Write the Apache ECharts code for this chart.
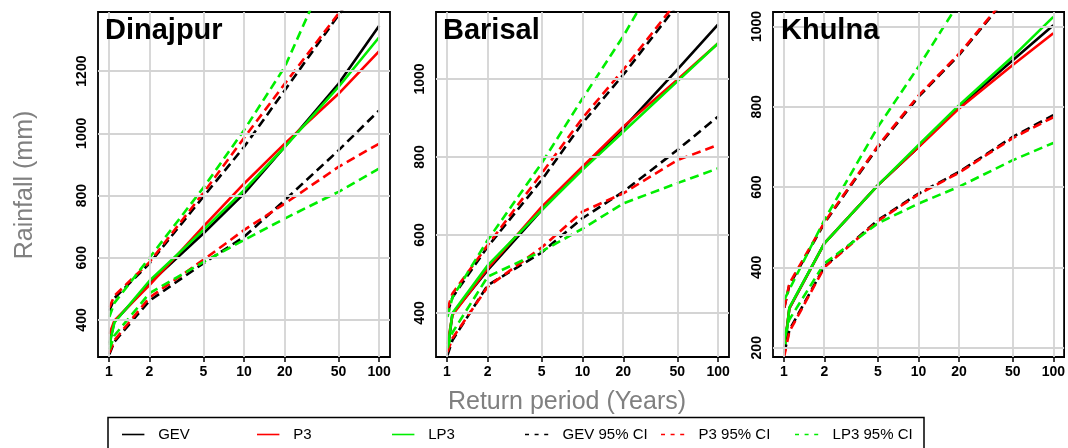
<!DOCTYPE html>
<html><head><meta charset="utf-8">
<script src="https://cdn.jsdelivr.net/npm/echarts@6/dist/echarts.min.js"></script>
<style>html,body{margin:0;padding:0;background:#fff}#c{width:1068px;height:448px}</style>
</head><body><div id="c"></div>
<script>
// Return periods (years) at which values were read
const returnPeriods = [1.01, 1.1, 2, 5, 10, 20, 50, 100];
const xTickLabels = [1, 2, 5, 10, 20, 50, 100];
const stations = ['Dinajpur', 'Barisal', 'Khulna'];
const legendNames = ['GEV', 'P3', 'LP3', 'GEV 95% CI', 'P3 95% CI', 'LP3 95% CI'];

// Dinajpur
const dinajpurGEV = [325, 395, 518, 678, 806, 956, 1159, 1346];
const dinajpurP3 = [355, 398, 512, 700, 838, 967, 1127, 1264];
const dinajpurLP3 = [320, 392, 526, 689, 817, 956, 1149, 1309];
const dinajpurGEVUpper = [430, 470, 582, 796, 956, 1138, 1380, 1560];
const dinajpurP3Upper = [440, 478, 586, 808, 985, 1159, 1385, 1570];
const dinajpurLP3Upper = [410, 455, 600, 825, 1010, 1213, 1600, 1850];
const dinajpurGEVLower = [290, 330, 462, 582, 667, 785, 945, 1074];
const dinajpurP3Lower = [295, 335, 472, 593, 689, 774, 892, 967];
const dinajpurLP3Lower = [305, 350, 486, 586, 657, 726, 812, 887];
const dinajpurYTicks = [400, 600, 800, 1000, 1200];

// Barisal
const barisalGEV = [300, 398, 510, 664, 771, 874, 1024, 1140];
const barisalP3 = [320, 395, 514, 672, 775, 878, 998, 1092];
const barisalLP3 = [305, 400, 522, 664, 767, 865, 994, 1092];
const barisalGEVUpper = [400, 440, 570, 741, 887, 1011, 1190, 1300];
const barisalP3Upper = [410, 450, 574, 758, 900, 1024, 1200, 1320];
const barisalLP3Upper = [390, 440, 587, 784, 950, 1110, 1350, 1500];
const barisalGEVLower = [291, 330, 471, 555, 643, 711, 818, 904];
const barisalP3Lower = [300, 335, 467, 568, 660, 707, 792, 831];
const barisalLP3Lower = [310, 350, 493, 558, 616, 681, 733, 771];
const barisalYTicks = [400, 600, 800, 1000];

// Khulna
const khulnaGEV = [195, 298, 460, 605, 700, 800, 916, 1003];
const khulnaP3 = [200, 298, 460, 605, 700, 796, 904, 983];
const khulnaLP3 = [185, 300, 460, 605, 705, 804, 925, 1024];
const khulnaGEVUpper = [300, 356, 510, 700, 825, 929, 1090, 1190];
const khulnaP3Upper = [300, 360, 512, 703, 828, 932, 1092, 1192];
const khulnaLP3Upper = [320, 345, 518, 750, 900, 1060, 1250, 1400];
const khulnaGEVLower = [186, 244, 402, 518, 584, 638, 725, 779];
const khulnaP3Lower = [180, 240, 400, 516, 582, 636, 722, 774];
const khulnaLP3Lower = [230, 270, 410, 510, 559, 601, 667, 710];
const khulnaYTicks = [200, 400, 600, 800, 1000];

const panels = [
  {name: stations[0], gev: dinajpurGEV, p3: dinajpurP3, lp3: dinajpurLP3,
   gevU: dinajpurGEVUpper, p3U: dinajpurP3Upper, lp3U: dinajpurLP3Upper,
   gevL: dinajpurGEVLower, p3L: dinajpurP3Lower, lp3L: dinajpurLP3Lower,
   yTicks: dinajpurYTicks, ymin: 281, ymax: 1390, left: 98, width: 292, titleX: 106},
  {name: stations[1], gev: barisalGEV, p3: barisalP3, lp3: barisalLP3,
   gevU: barisalGEVUpper, p3U: barisalP3Upper, lp3U: barisalLP3Upper,
   gevL: barisalGEVLower, p3L: barisalP3Lower, lp3L: barisalLP3Lower,
   yTicks: barisalYTicks, ymin: 287, ymax: 1172, left: 436, width: 293, titleX: 444},
  {name: stations[2], gev: khulnaGEV, p3: khulnaP3, lp3: khulnaLP3,
   gevU: khulnaGEVUpper, p3U: khulnaP3Upper, lp3U: khulnaLP3Upper,
   gevL: khulnaGEVLower, p3L: khulnaP3Lower, lp3L: khulnaLP3Lower,
   yTicks: khulnaYTicks, ymin: 177, ymax: 1036, left: 773, width: 294, titleX: 782}
];

const colors = {GEV: '#000000', P3: '#ff0000', LP3: '#00ee00'};
const FONT = '"Liberation Sans", Arial, sans-serif';
const xTickVals = xTickLabels.map(v => Math.log10(v));
const toPts = arr => returnPeriods.map((t, i) => [Math.log10(t), arr[i]]);

const grids = [], xAxes = [], yAxes = [], series = [], titles = [];
panels.forEach((p, k) => {
  grids.push({left: p.left, top: 12, width: p.width, height: 345, show: true,
    borderColor: '#000', borderWidth: 1.8, backgroundColor: 'transparent', containLabel: false});
  xAxes.push({type: 'value', gridIndex: k, min: -0.08, max: 2.08,
    axisLine: {show: false}, splitLine: {show: false},
    axisTick: {show: true, customValues: xTickVals, length: 5, lineStyle: {color: '#000', width: 1.5}},
    axisLabel: {customValues: xTickVals, margin: 8, color: '#000', fontSize: 14, fontWeight: 'bold', fontFamily: FONT,
      formatter: v => String(Math.round(Math.pow(10, v)))}});
  yAxes.push({type: 'value', gridIndex: k, min: p.ymin, max: p.ymax,
    axisLine: {show: false}, splitLine: {show: false},
    axisTick: {show: true, customValues: p.yTicks, length: 5, lineStyle: {color: '#000', width: 1.5}},
    axisLabel: {customValues: p.yTicks, rotate: 90, margin: 9, color: '#000', fontSize: 14, fontWeight: 'bold', fontFamily: FONT,
      formatter: v => String(v)}});
  // grid lines
  series.push({type: 'line', name: 'grid' + k, xAxisIndex: k, yAxisIndex: k, silent: true, z: 1,
    data: [[0, p.yTicks[0]]], symbol: 'none', lineStyle: {width: 0},
    markLine: {silent: true, symbol: ['none', 'none'], label: {show: false}, animation: false,
      lineStyle: {color: '#d4d4d4', width: 1.8, type: 'solid'},
      data: xTickVals.map(v => ({xAxis: v})).concat(p.yTicks.map(v => ({yAxis: v})))}});
  const addLine = (name, color, arr, dashed) => series.push({
    type: 'line', name, xAxisIndex: k, yAxisIndex: k, data: toPts(arr), symbol: 'none',
    silent: true, clip: true, z: 2, animation: false,
    lineStyle: {color, width: 2.6, type: dashed ? [9, 5] : 'solid'}, itemStyle: {color}});
  addLine('GEV', colors.GEV, p.gev, false);
  addLine('P3', colors.P3, p.p3, false);
  addLine('LP3', colors.LP3, p.lp3, false);
  addLine('GEV 95% CI', colors.GEV, p.gevU, true);
  addLine('GEV 95% CI', colors.GEV, p.gevL, true);
  addLine('P3 95% CI', colors.P3, p.p3U, true);
  addLine('P3 95% CI', colors.P3, p.p3L, true);
  addLine('LP3 95% CI', colors.LP3, p.lp3U, true);
  addLine('LP3 95% CI', colors.LP3, p.lp3L, true);
  titles.push({text: p.name, left: p.titleX - 1, top: 16, padding: 0,
    textStyle: {fontSize: 29, fontWeight: 'bold', color: '#000', fontFamily: FONT}});
});

const solidIcon = 'path://M0,0h28v2h-28z';
const dashIcon = 'path://M0,0h5v2h-5z M12,0h5v2h-5z M24,0h5v2h-5z';
const legendLeft = [122, 257, 392, 525, 661, 795];
const legends = legendNames.map((n, i) => ({
  data: [{name: n, icon: i < 3 ? solidIcon : dashIcon}],
  left: legendLeft[i], top: 427, itemWidth: i < 3 ? 28 : 30, itemHeight: 1.6, padding: 0,
  selectedMode: false,
  textStyle: {fontSize: 15, color: '#000', fontFamily: FONT, padding: [0, 0, 0, i < 3 ? 6 : 6]}
}));

const chart = echarts.init(document.getElementById('c'), null, {renderer: 'canvas'});
chart.setOption({
  animation: false,
  backgroundColor: '#fff',
  title: titles,
  grid: grids, xAxis: xAxes, yAxis: yAxes, series, legend: legends,
  graphic: [
    {type: 'text', x: 25, y: 185, rotation: Math.PI / 2,
     style: {text: 'Rainfall (mm)', fill: '#808080', font: '25px ' + FONT, align: 'center', verticalAlign: 'middle'}},
    {type: 'text', x: 567, y: 402,
     style: {text: 'Return period (Years)', fill: '#808080', font: '25px ' + FONT, align: 'center', verticalAlign: 'middle'}},
    {type: 'rect', shape: {x: 108, y: 417.5, width: 816, height: 40},
     style: {fill: 'none', stroke: '#000', lineWidth: 1.5}, silent: true}
  ]
});
</script></body></html>
